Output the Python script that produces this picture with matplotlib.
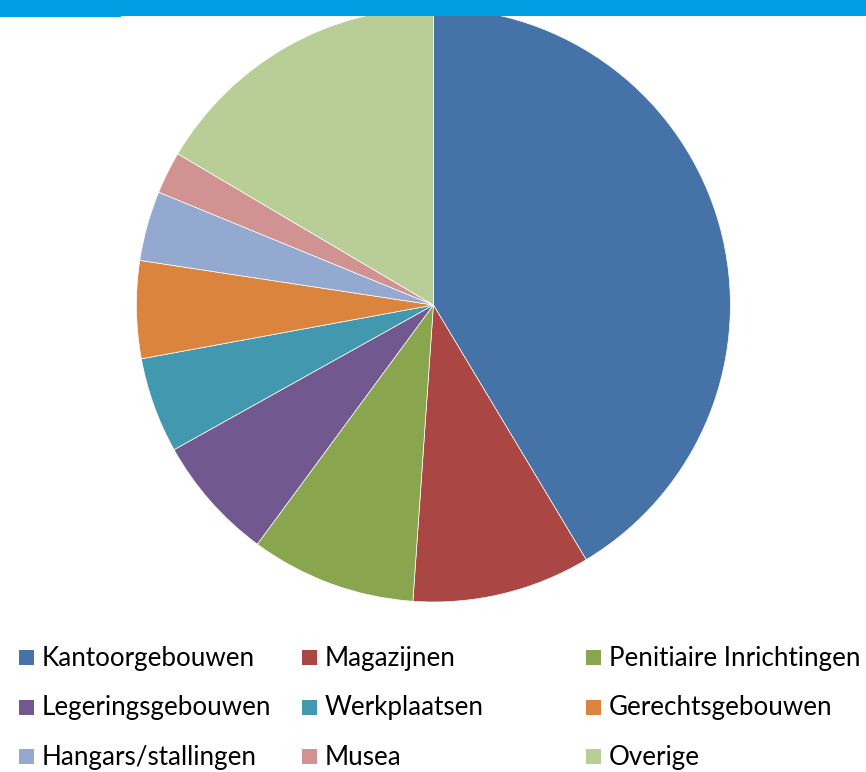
import matplotlib
matplotlib.use("Agg")
import matplotlib.pyplot as plt
from matplotlib.patches import Rectangle

# share of each building type (%), clockwise from 12 o'clock
labels = ["Kantoorgebouwen", "Magazijnen", "Penitiaire Inrichtingen",
          "Legeringsgebouwen", "Werkplaatsen", "Gerechtsgebouwen",
          "Hangars/stallingen", "Musea", "Overige"]
shares = [41.4, 9.7, 9.0, 6.8, 5.2, 5.3, 3.8, 2.3, 16.5]
colors = ["#4572A7", "#AA4643", "#89A54E", "#71588F", "#4198AF",
          "#DB843D", "#93A9CF", "#D19392", "#B9CD96"]

W, H = 866, 772
fig = plt.figure(figsize=(W / 100, H / 100), dpi=100)
fig.patch.set_facecolor("white")

# pie axes: centre (433, 305) px, radius 297 px
cx, cy, r = 433.4, 305, 297
ax = fig.add_axes([(cx - r) / W, (H - cy - r) / H, 2 * r / W, 2 * r / H])
ax.pie(shares, colors=colors, startangle=90, counterclock=False, radius=1,
       wedgeprops=dict(edgecolor="white", linewidth=0.5))
ax.set_xlim(-1, 1)
ax.set_ylim(-1, 1)
ax.set_aspect("equal")
ax.axis("off")

# blue band across the top
fig.add_artist(Rectangle((0, 1 - 16 / H), 1, 16 / H, transform=fig.transFigure,
                         facecolor="#009FE3", edgecolor="none", zorder=5))
fig.add_artist(Rectangle((0, 1 - 17 / H), 121 / W, 17 / H, transform=fig.transFigure,
                         facecolor="#009FE3", edgecolor="none", zorder=5))

# legend, 3 columns
col_x = [19, 302, 586]
base_y = [666, 715.5, 765]
sq = 15
for i, (lab, c) in enumerate(zip(labels, colors)):
    x = col_x[i % 3]
    y = base_y[i // 3]
    fig.add_artist(Rectangle((x / W, 1 - (y - 1) / H), sq / W, sq / H,
                             transform=fig.transFigure, facecolor=c, edgecolor="none"))
    fig.text((x + 23) / W, 1 - y / H, lab, fontsize=18.7, family=["Lato", "DejaVu Sans"],
             color="black", va="baseline", ha="left")

fig.savefig("out.png", dpi=100)
